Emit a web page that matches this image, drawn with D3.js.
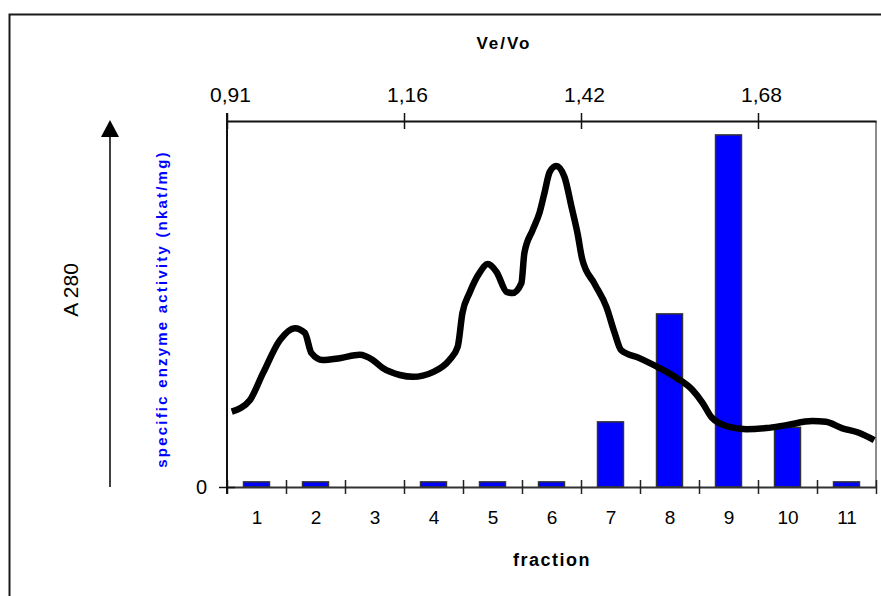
<!DOCTYPE html>
<html><head><meta charset="utf-8">
<script src="https://cdn.jsdelivr.net/npm/d3@7"></script>
<style>body{margin:0;background:#fff;overflow:hidden} text{font-family:"Liberation Sans",Arial,sans-serif}</style>
</head><body><svg id="c" width="881" height="596"></svg>
<script>
// ---- data ----
const fractions = [1,2,3,4,5,6,7,8,9,10,11];
const activity = [1.4,1.4,0,1.4,1.4,1.4,17.8,47.3,96.2,16.3,1.4];   // specific enzyme activity (relative)
const veVoLabels = ["0,91","1,16","1,42","1,68"];
const veVoBoundary = [0,3,6,9];     // fraction boundaries where Ve/Vo is labelled
const a280Pos = [0.58,0.89,1.11,1.40,1.65,1.82,1.93,2.12,2.41,2.75,2.97,3.14,3.43,3.65,3.99,4.27,4.41,4.49,4.61,4.78,4.92,5.07,5.24,5.34,5.49,5.54,5.68,5.80,5.88,5.97,6.08,6.22,6.34,6.44,6.52,6.73,6.93,7.07,7.18,7.49,7.83,8.12,8.39,8.56,8.72,9.01,9.30,9.64,9.98,10.42,10.65,10.92,11.21,11.47];
const a280Val = [0.206,0.238,0.311,0.402,0.434,0.421,0.366,0.347,0.352,0.361,0.347,0.325,0.306,0.301,0.314,0.347,0.383,0.475,0.530,0.585,0.609,0.587,0.533,0.530,0.557,0.639,0.702,0.751,0.803,0.861,0.877,0.847,0.765,0.694,0.623,0.555,0.492,0.421,0.374,0.352,0.325,0.298,0.265,0.230,0.189,0.164,0.158,0.161,0.169,0.180,0.178,0.161,0.148,0.128];

// ---- layout ----
const L = 227, R = 876, T = 121, B = 487;
const FONT = "Liberation Sans, Arial, sans-serif";
const svg = d3.select("#c");

const x = d3.scaleLinear().domain([0.5, 11.5]).range([L, R]);
const band = d3.scaleBand().domain(fractions).range([L, R]).paddingInner(0.56).paddingOuter(0.28);
const yAct = d3.scaleLinear().domain([0, 100]).range([B, T]);
const yA = d3.scaleLinear().domain([0, 1]).range([B, T]);

// outer frame
svg.append("rect").attr("x", 9.5).attr("y", 14.5).attr("width", 900).attr("height", 620)
  .attr("fill", "none").attr("stroke", "#1a1a1a").attr("stroke-width", 2);

// bars
svg.append("g").selectAll("rect").data(fractions.filter((f,i)=>activity[i]>0)).join("rect")
  .attr("x", d => band(d))
  .attr("width", band.bandwidth())
  .attr("y", d => yAct(activity[d-1]))
  .attr("height", d => B - yAct(activity[d-1]))
  .attr("fill", "#0000ff").attr("stroke", "#333").attr("stroke-width", 1.5);

// right border (gray)
svg.append("line").attr("x1", R).attr("x2", R).attr("y1", T).attr("y2", B)
  .attr("stroke", "#8c8c8c").attr("stroke-width", 2);

// bottom axis
const gB = svg.append("g").attr("transform", `translate(0,${B})`)
  .call(d3.axisBottom(x).tickValues(d3.range(0.5, 11.6, 1)).tickFormat("").tickSizeOuter(0));
gB.select(".domain").attr("stroke", "#333").attr("stroke-width", 2);
gB.selectAll(".tick line").attr("y1", -7).attr("y2", 7).attr("stroke", "#222").attr("stroke-width", 1.5);
const gBL = svg.append("g").attr("transform", `translate(0,${B})`)
  .call(d3.axisBottom(x).tickValues(fractions).tickFormat(d3.format("d")).tickSize(0).tickPadding(24));
gBL.select(".domain").remove();
gBL.selectAll("text").attr("font-size", 19).attr("fill", "#000").attr("font-family", FONT);

// top axis (Ve/Vo)
const gT = svg.append("g").attr("transform", `translate(0,${T})`)
  .call(d3.axisTop(x).tickValues(veVoBoundary.map(b => b + 0.5))
    .tickFormat((d,i) => veVoLabels[i]).tickSizeOuter(0).tickPadding(13));
gT.select(".domain").attr("stroke", "#111").attr("stroke-width", 2);
gT.selectAll(".tick line").attr("y1", -8).attr("y2", 8).attr("stroke", "#111").attr("stroke-width", 1.5);
gT.selectAll("text").attr("font-size", 21).attr("fill", "#000").attr("font-family", FONT).attr("dx", 3);

// left axis
const gL = svg.append("g").attr("transform", `translate(${L},0)`)
  .call(d3.axisLeft(yAct).tickValues([0]).tickFormat(d3.format("d")).tickSizeOuter(0).tickPadding(14));
gL.select(".domain").remove();
gL.selectAll(".tick line").attr("x1", -8).attr("x2", 8).attr("stroke", "#111").attr("stroke-width", 1.5);
gL.selectAll("text").attr("font-size", 20).attr("fill", "#000").attr("font-family", FONT);
svg.append("line").attr("x1", L).attr("x2", L).attr("y1", T - 8).attr("y2", B + 7)
  .attr("stroke", "#111").attr("stroke-width", 2);

// A280 curve
const line = d3.line().x((d,i) => x(a280Pos[i])).y(d => yA(d)).curve(d3.curveMonotoneX);
svg.append("path").attr("d", line(a280Val)).attr("fill", "none")
  .attr("stroke", "#000").attr("stroke-width", 6.5).attr("stroke-linejoin", "round");

// titles
svg.append("text").attr("x", 504).attr("y", 49).attr("text-anchor", "middle")
  .attr("font-size", 17).attr("font-weight", "bold").attr("letter-spacing", 2).text("Ve/Vo");
svg.append("text").attr("x", 552).attr("y", 566).attr("text-anchor", "middle")
  .attr("font-size", 18).attr("font-weight", "bold").attr("letter-spacing", 1.5).text("fraction");
svg.append("text").attr("transform", "translate(78,290) rotate(-90)").attr("text-anchor", "middle")
  .attr("font-size", 21).text("A 280");
svg.append("text").attr("transform", "translate(167,309) rotate(-90)").attr("text-anchor", "middle")
  .attr("font-size", 15).attr("font-weight", "bold").attr("letter-spacing", 2.2).attr("fill", "#0000ff")
  .text("specific enzyme activity (nkat/mg)");

// arrow
svg.append("line").attr("x1", 110).attr("x2", 110).attr("y1", B).attr("y2", 134)
  .attr("stroke", "#000").attr("stroke-width", 1.5);
svg.append("path").attr("d", "M110,120 L101,137 L119,137 Z").attr("fill", "#000");
</script></body></html>
